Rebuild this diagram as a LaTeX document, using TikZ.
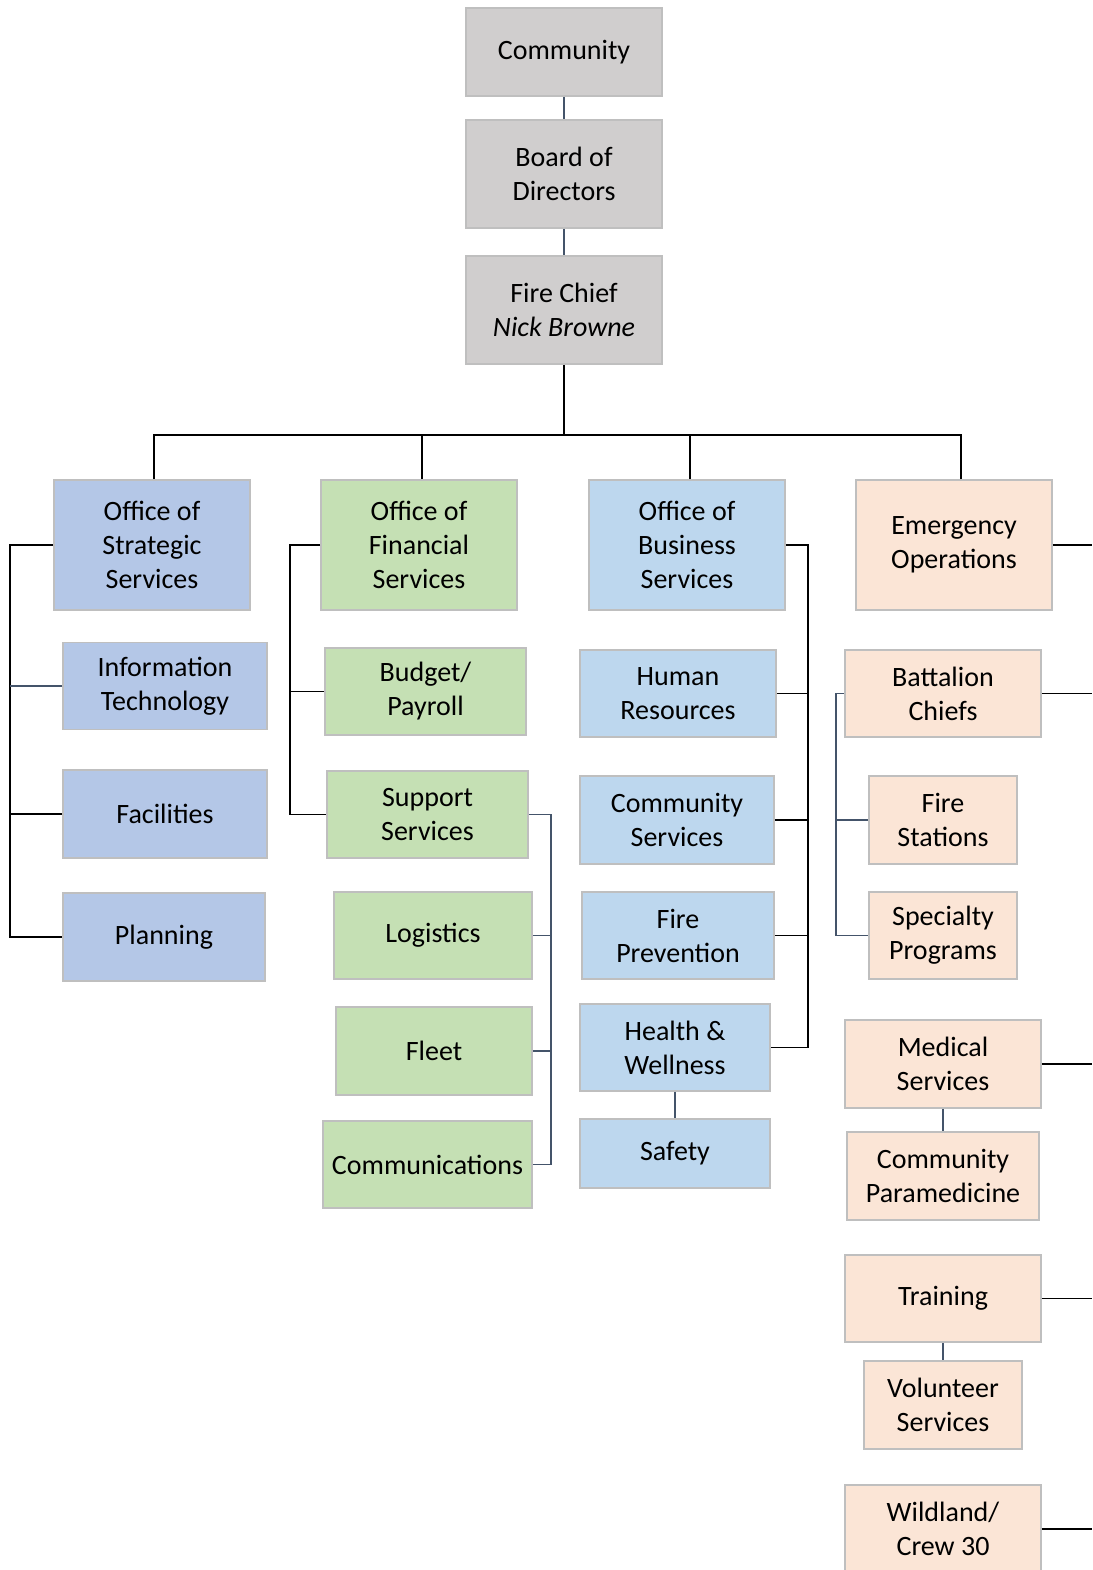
\documentclass[tikz,border=0pt]{standalone}
\usepackage{fontspec}
\setmainfont{Carlito}
\definecolor{grayfill}{HTML}{D0CECE}
\definecolor{stratfill}{HTML}{B4C7E7}
\definecolor{busfill}{HTML}{BDD7EE}
\definecolor{finfill}{HTML}{C5E0B4}
\definecolor{emfill}{HTML}{FBE5D6}
\definecolor{bordc}{HTML}{BFBFBF}
\definecolor{slate}{HTML}{44546A}
\begin{document}
\begin{tikzpicture}[x=1pt,y=-1pt,
  box/.style={draw=bordc, line width=1.8pt, align=center, inner sep=0pt,
    font=\fontsize{28}{34}\selectfont, text=black},
  gbox/.style={box, fill=grayfill},
  sbox/.style={box, fill=stratfill},
  fbox/.style={box, fill=finfill},
  bbox/.style={box, fill=busfill},
  ebox/.style={box, fill=emfill},
  conn/.style={draw=black, line width=1.4pt},
  connb/.style={draw=slate, line width=1.4pt}]
\useasboundingbox (0,0) rectangle (1092,1570);

% top
\node[gbox, minimum width=196, minimum height=88] (comm) at (564,52) {Community};
\node[gbox, minimum width=196, minimum height=108] (board) at (564,174) {Board of\\Directors};
\node[gbox, minimum width=196, minimum height=108] (chief) at (564,310) {Fire Chief\\\textit{Nick Browne}};

% strategic
\node[sbox, minimum width=196, minimum height=130] (strat) at (152,545) {Office of\\Strategic\\Services};
\node[sbox, minimum width=204, minimum height=87] (it) at (165,686) {Information\\Technology};
\node[sbox, minimum width=204, minimum height=88] (fac) at (165,814) {Facilities};
\node[sbox, minimum width=202, minimum height=88] (plan) at (164,937) {Planning};

% financial
\node[fbox, minimum width=196, minimum height=130] (fin) at (419,545) {Office of\\Financial\\Services};
\node[fbox, minimum width=201, minimum height=87] (budget) at (425.5,691.5) {Budget/\\Payroll};
\node[fbox, minimum width=201, minimum height=87] (support) at (427.5,814.5) {Support\\Services};
\node[fbox, minimum width=198, minimum height=87] (log) at (433,935.5) {Logistics};
\node[fbox, minimum width=196, minimum height=88] (fleet) at (434,1051) {Fleet};
\node[fbox, minimum width=209, minimum height=87] (comms) at (427.5,1164.5) {Communications};

% business
\node[bbox, minimum width=196, minimum height=130] (bus) at (687,545) {Office of\\Business\\Services};
\node[bbox, minimum width=196, minimum height=87] (hr) at (678,693.5) {Human\\Resources};
\node[bbox, minimum width=194, minimum height=88] (cs) at (677,820) {Community\\Services};
\node[bbox, minimum width=192, minimum height=87] (fp) at (678,935.5) {Fire\\Prevention};
\node[bbox, minimum width=190, minimum height=87] (hw) at (675,1047.5) {Health \&\\Wellness};
\node[bbox, minimum width=190, minimum height=69] (safety) at (675,1153.5) {Safety};

% emergency
\node[ebox, minimum width=196, minimum height=130] (emerg) at (954,545) {Emergency\\Operations};
\node[ebox, minimum width=196, minimum height=87] (bc) at (943,693.5) {Battalion\\Chiefs};
\node[ebox, minimum width=148, minimum height=88] (fs) at (943,820) {Fire\\Stations};
\node[ebox, minimum width=148, minimum height=87] (sp) at (943,935.5) {Specialty\\Programs};
\node[ebox, minimum width=196, minimum height=88] (med) at (943,1064) {Medical\\Services};
\node[ebox, minimum width=192, minimum height=88] (para) at (943,1176) {Community\\Paramedicine};
\node[ebox, minimum width=196, minimum height=87] (train) at (943,1298.5) {Training};
\node[ebox, minimum width=158, minimum height=88] (vol) at (943,1405) {Volunteer\\Services};
\node[ebox, minimum width=196, minimum height=88] (wild) at (943,1529) {Wildland/\\Crew 30};

% top connectors
\draw[connb] (comm.south) -- (board.north);
\draw[connb] (board.south) -- (chief.north);
\coordinate (hb) at (564,435);
\draw[conn] (chief.south) -- (hb);
\draw[conn] ([xshift=2pt]strat.north) |- (hb);
\draw[conn] ([xshift=7pt]emerg.north) |- (hb);
\draw[conn] ([xshift=3pt]fin.north) -- ([xshift=3pt]fin.north |- hb);
\draw[conn] ([xshift=3pt]bus.north) -- ([xshift=3pt]bus.north |- hb);

% strategic bus
\coordinate (sl) at (10,545);
\draw[conn] (strat.west) -- (sl) |- (plan.west);
\draw[connb] (it.west) -- (it.west -| sl);
\draw[conn] (fac.west) -- (fac.west -| sl);

% financial bus
\coordinate (fl) at (290,545);
\draw[conn] (fin.west) -- (fl) |- (support.west);
\draw[conn] (budget.west) -- (budget.west -| fl);

% support bus
\coordinate (sr) at (551,814.5);
\draw[connb] (support.east) -- (sr) |- (comms.east);
\draw[connb] (log.east) -- (log.east -| sr);
\draw[connb] (fleet.east) -- (fleet.east -| sr);

% business bus
\coordinate (br) at (808,545);
\draw[conn] (bus.east) -- (br) |- (hw.east);
\draw[conn] (hr.east) -- (hr.east -| br);
\draw[conn] (cs.east) -- (cs.east -| br);
\draw[conn] (fp.east) -- (fp.east -| br);
\draw[connb] (hw.south) -- (safety.north);

% emergency
\coordinate (er1) at (1092,545);
\coordinate (er2) at (1092,693.5);
\coordinate (er3) at (1092,1064);
\coordinate (er4) at (1092,1298.5);
\coordinate (er5) at (1092,1529);
\draw[conn] (emerg.east) -- (er1);
\draw[conn] (bc.east) -- (er2);
\draw[conn] (med.east) -- (er3);
\draw[conn] (train.east) -- (er4);
\draw[conn] (wild.east) -- (er5);
\coordinate (bl) at (836,693.5);
\draw[connb] (bc.west) -- (bl) |- (sp.west);
\draw[connb] (fs.west) -- (fs.west -| bl);
\draw[connb] (med.south) -- (para.north);
\draw[connb] (train.south) -- (vol.north);
\end{tikzpicture}
\end{document}
